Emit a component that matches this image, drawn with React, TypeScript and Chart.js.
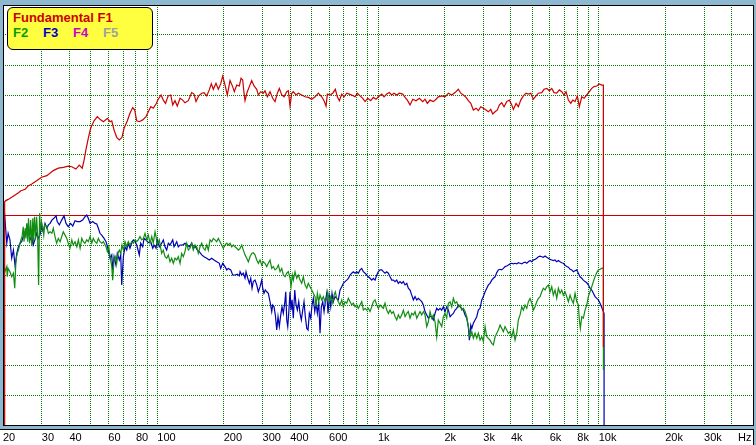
import React, { useEffect, useRef } from "react";
import { Chart, registerables } from "chart.js";

Chart.register(...registerables);

// ---------- axis ----------
const TICK_VALUES = [20, 30, 40, 50, 60, 70, 80, 90, 100, 200, 300, 400, 500, 600, 700, 800, 900, 1000, 2000, 3000, 4000, 5000, 6000, 7000, 8000, 9000, 10000, 20000, 30000, 40000];
const TICK_LABELS = ["20", "30", "40", "", "60", "", "80", "", "100", "200", "300", "400", "", "600", "", "", "", "1k", "2k", "3k", "4k", "", "6k", "", "8k", "", "10k", "20k", "30k", ""];
const UNIT_LABEL = "Hz";
const X_MIN = 20;
const X_MAX = 50000;
const Y_MIN = 0;
const Y_MAX = 140;
const Y_STEP = 10;
const REF_LEVEL = 70;

// ---------- F1 (fundamental) ----------
const F1_HZ = [20.35, 20.35, 20.6, 21.1, 21.9, 22.7, 23.5, 24.1, 25.2, 26.0,
  27.0, 28.4, 29.9, 31.6, 33.8, 35.6, 37.5, 39.5, 41.0, 42.8,
  44.3, 45.7, 46.6, 47.5, 48.7, 49.9, 51.7, 53.5, 55.0, 57.0,
  59.4, 61.1, 62.2, 63.7, 65.5, 67.3, 69.2, 70.7, 73.2, 75.2,
  77.4, 79.0, 80.7, 82.9, 85.9, 88.9, 91.1, 93.4, 95.9, 98.7,
  101, 104, 106.5, 109, 112, 115, 117.5, 120.3, 123.2, 126.8,
  130.4, 133.5, 138.2, 143.2, 146.7, 149.8, 154, 159, 162.8, 167.5,
  172, 175.7, 179.4, 184.5, 189, 193.8, 197.9, 202.8, 207.6, 213.6,
  219.6, 223.4, 229.1, 235.4, 239.6, 243.8, 247.2, 249.8, 255.8, 261.2,
  267.8, 274.4, 282.2, 287, 294.2, 302.2, 307.6, 315.2, 324.2, 333.4,
  341.6, 350, 357.2, 366.4, 375.2, 386, 392.4, 399.4, 406.6, 413.4,
  425.2, 435.6, 451.2, 467.2, 483.4, 500.8, 518.6, 536.6, 556, 569.6,
  581.6, 589.6, 606.2, 623.6, 640.8, 654.2, 668.2, 685, 701.8, 721.8,
  741.6, 760.4, 787, 806, 829.2, 852.8, 873.6, 898.6, 927, 952.6,
  979.8, 1004, 1040, 1065, 1095, 1125, 1154, 1182, 1216, 1249,
  1294, 1326, 1358, 1397, 1437, 1487, 1539, 1595, 1633, 1673,
  1721, 1781, 1832, 1876, 1944, 2012, 2084, 2158, 2234, 2312,
  2372, 2436, 2506, 2566, 2632, 2704, 2782, 2848, 2922, 3002,
  3086, 3162, 3242, 3310, 3392, 3474, 3548, 3636, 3724, 3830,
  3936, 4036, 4104, 4222, 4324, 4434, 4556, 4686, 4800, 4920,
  5056, 5200, 5328, 5520, 5654, 5814, 5974, 6126, 6276, 6454,
  6632, 6800, 6966, 7112, 7286, 7470, 7628, 7812, 8002, 8170,
  8378, 8580, 8826, 9068, 9298, 9524, 9796, 10066, 10322, 10496,
  10500];
const F1_DB = [-10, 74.4, 74.8, 75.2, 75.9, 76.7, 77.4, 78.1, 78.6, 79.7,
  80.3, 81.4, 82.6, 83.1, 84.8, 85.6, 85.9, 86.3, 86.1, 85.3,
  86.6, 85.6, 88.3, 91.7, 95.6, 98.9, 101.4, 102.8, 101.9, 101.1,
  102.2, 101.1, 101.4, 98.3, 95.9, 95.0, 95.9, 98.9, 101.4, 103.9,
  105.8, 105.0, 101.4, 101.1, 101.7, 102.8, 104.4, 106.1, 105.6, 107.0,
  108.6, 110.0, 108.3, 107.2, 109.7, 110.0, 106.7, 108.1, 106.3, 108.9,
  108.3, 107.4, 108.1, 110.8, 110.3, 107.8, 109.7, 110.6, 110.8, 109.7,
  111.7, 113.7, 111.9, 113.9, 111.9, 113.7, 116.3, 113.3, 110.0, 114.8,
  112.8, 111.1, 113.3, 113.0, 115.6, 115.0, 110.6, 108.1, 111.1, 112.8,
  114.8, 113.0, 111.9, 110.0, 111.1, 110.6, 111.4, 109.4, 111.1, 108.9,
  107.8, 110.6, 112.2, 110.0, 109.4, 111.1, 111.4, 106.3, 110.6, 111.1,
  110.0, 110.6, 110.0, 109.4, 109.2, 108.6, 109.4, 110.6, 109.4, 108.1,
  106.3, 110.3, 110.0, 110.6, 111.9, 109.4, 108.1, 110.3, 109.4, 110.6,
  110.3, 110.0, 109.4, 110.6, 109.7, 108.9, 107.8, 108.9, 108.1, 109.2,
  108.6, 109.4, 110.3, 109.4, 110.3, 110.8, 110.0, 110.6, 110.0, 110.6,
  110.3, 109.2, 108.3, 106.7, 108.6, 108.1, 108.9, 107.8, 108.6, 107.2,
  108.3, 107.8, 108.6, 109.4, 109.7, 109.4, 110.6, 110.0, 110.8, 111.9,
  110.6, 110.0, 109.2, 108.1, 107.2, 105.0, 105.6, 104.8, 106.1, 105.6,
  105.0, 104.4, 105.2, 103.7, 104.4, 105.0, 106.7, 107.4, 106.1, 107.8,
  108.3, 106.7, 105.2, 107.2, 106.1, 108.3, 109.7, 110.6, 110.3, 110.6,
  108.6, 109.7, 110.6, 110.8, 111.9, 112.2, 111.4, 112.2, 110.8, 110.6,
  111.7, 111.1, 110.0, 111.1, 108.3, 107.2, 108.3, 107.8, 109.7, 106.1,
  109.4, 108.9, 110.0, 111.1, 112.2, 112.8, 113.0, 113.7, 113.3, 113.3,
  26.0];

// ---------- F2 ----------
const F2_HZ = [20.0, 20.2, 20.4, 20.8, 20.9, 21.1, 21.5, 21.9, 22.3, 22.6,
  22.9, 23.2, 23.5,
  24.1, 24.4, 24.7, 24.9, 25.2, 25.4, 25.6, 25.9, 26.1, 26.4,
  26.7, 27.0, 27.3, 27.5, 27.8, 28.1, 28.4, 28.7, 29.0, 29.3,
  29.6, 29.9, 30.3, 30.6, 30.9,
  31.6, 32.1, 32.7, 33.3,
  33.8, 34.4, 35.0, 35.6, 36.3, 36.9, 37.5, 38.2, 38.9, 39.5,
  40.2, 41.0, 41.6, 42.4, 43.2, 43.9, 44.7, 45.5, 46.2, 47.0,
  47.9, 48.7, 49.6, 50.5, 51.3, 52.2, 53.2, 54.1, 55.0, 56.0,
  57.0, 58.6, 59.4, 60.3, 61.1, 62.2, 62.8, 63.7, 64.5, 65.5,
  66.4, 67.3, 68.3, 69.2, 70.2, 71.4, 72.7, 73.9, 75.2, 76.6,
  77.9, 79.3, 80.7, 82.0, 83.5, 85.0, 86.5, 88.0, 89.6, 91.1,
  92.7, 94.4, 95.9, 97.7, 98.7, 100.0, 102.1, 103.7, 104.7, 106.5,
  108.4, 110.3, 112.2, 114.2, 116.2, 118.2, 120.3, 122.5, 124.5, 126.8,
  129.0, 131.2, 133.5, 135.9, 138.2, 140.7, 143.2, 145.6, 148.2, 150.9,
  153.4, 156.2, 159.0, 161.7, 164.6, 167.5, 170.3, 173.4, 176.5, 179.4,
  182.6, 185.9, 189.0, 192.4, 195.8, 199.2, 202.7, 206.4, 209.8, 213.6,
  217.4, 221.0, 225.0, 229.1, 233.0, 237.2, 241.4, 245.4, 249.8, 254.3,
  258.6, 263.2, 267.8, 272.3, 277.2, 282.2, 287.0, 292.2, 297.4, 302.2,
  307.6, 313.1, 318.5, 324.2, 330.0, 335.6, 341.6, 347.8, 353.6, 359.9,
  366.4, 372.4, 379.1, 386.0, 392.4, 399.4, 403.6, 409.1, 413.4, 420.8,
  428.4, 435.6, 443.4, 451.2, 458.9, 467.2, 475.6, 483.4, 492.0, 500.8,
  509.3, 518.6, 524.0, 531.2, 538.9, 546.2, 556.0, 565.4, 575.4, 585.8,
  591.8, 602.0, 610.7, 623.6, 632.2, 640.8, 650.2, 661.1, 673.0, 685.0,
  696.6, 709.0, 721.8, 734.0, 747.2, 760.4, 773.2, 787.0, 801.2, 814.6,
  829.2, 844.0, 858.2, 873.6, 889.2, 904.2, 920.4, 936.8, 952.6, 969.6,
  987.0, 1004, 1022, 1040, 1057, 1076, 1095, 1114, 1134, 1154,
  1174, 1195, 1216, 1236, 1258, 1281, 1303, 1326, 1350, 1372,
  1397, 1422, 1446, 1472, 1498, 1523, 1550, 1578, 1605, 1633,
  1663, 1691, 1721, 1752, 1781, 1813, 1845, 1876, 1910, 1944,
  1977, 2012, 2048, 2084, 2121, 2158, 2195, 2234, 2274, 2312,
  2354, 2396, 2436, 2480, 2524, 2566, 2612, 2660, 2704, 2752,
  2802, 2848, 2900, 2952, 3002, 3056, 3110, 3162, 3218, 3276,
  3332, 3392, 3452, 3510, 3572, 3636, 3698, 3764, 3830, 3896,
  3966, 4036, 4104, 4178, 4252, 4324, 4402, 4480, 4556, 4638,
  4720, 4800, 4886, 4974, 5056, 5146, 5238, 5328, 5424, 5520,
  5614, 5714, 5814, 5912, 6018, 6126, 6228, 6340, 6454, 6562,
  6680, 6800, 6914, 7038, 7164, 7286, 7416, 7548, 7674, 7812,
  7952, 8086, 8170, 8256, 8378, 8520, 8672, 8826, 8974, 9134,
  9298, 9456, 9624, 9796, 9962, 10140, 10322, 10496,
  10502];
const F2_DB = [52.8, 53.9, 51.1, 52.8, 49.4, 52.2, 51.1, 49.4, 50.6, 45.6,
  55.0, 57.2, 58.3,
  61.7, 62.8, 66.1, 61.1, 65.6, 62.2, 67.2, 61.1, 68.9, 60.6,
  68.3, 60.0, 68.9, 61.1, 69.4, 62.2, 69.4, 63.3, 46.7, 70.6,
  64.4, 67.8, 65.6, 63.3, 66.7,
  66.1, 63.9, 64.4, 63.9,
  65.6, 62.8, 60.6, 62.2, 61.1, 62.8, 64.4, 63.3, 62.2, 60.6,
  58.9, 61.7, 60.0, 61.1, 59.4, 61.7, 58.9, 62.2, 61.1, 60.6,
  61.7, 61.1, 62.8, 60.6, 62.2, 61.1, 60.6, 62.2, 61.1, 60.6,
  61.1, 59.4, 57.8, 59.4, 56.1, 52.8, 48.3, 55.0, 56.1, 53.9,
  57.2, 58.3, 57.2, 60.0, 58.3, 61.1, 59.4, 61.1, 60.0, 61.1,
  60.6, 61.7, 61.1, 61.7, 62.8, 61.7, 62.2, 63.9, 61.7, 63.3,
  60.6, 62.8, 60.6, 64.4, 62.8, 60.0, 61.7, 58.9, 57.2, 58.3,
  56.1, 55.6, 56.7, 54.4, 55.6, 53.9, 55.6, 55.0, 56.1, 53.9,
  57.2, 56.1, 57.8, 60.6, 58.3, 58.9, 60.6, 58.3, 60.0, 59.4,
  57.2, 59.4, 60.6, 58.9, 58.3, 60.0, 58.3, 61.7, 61.1, 62.2,
  61.7, 61.1, 62.2, 61.1, 60.0, 58.9, 60.0, 60.6, 60.0, 60.6,
  59.4, 60.0, 59.4, 58.9, 58.3, 58.9, 60.0, 58.3, 56.7, 55.6,
  54.4, 56.1, 57.2, 57.4, 56.7, 55.0, 53.9, 55.0, 53.3, 54.4,
  53.9, 52.8, 53.9, 55.0, 52.2, 52.8, 51.7, 52.2, 53.3, 51.1,
  52.2, 50.0, 49.4, 50.6, 51.1, 48.9, 46.1, 50.0, 48.3, 51.1,
  48.9, 50.0, 48.3, 47.2, 49.4, 46.7, 45.6, 47.2, 46.1, 45.0,
  43.9, 42.8, 39.4, 43.9, 41.1, 43.3, 41.7, 42.8, 41.1, 42.2,
  44.4, 41.1, 42.8, 40.6, 43.3, 44.4, 42.2, 41.1, 40.0, 41.7,
  39.4, 41.1, 40.6, 42.2, 41.1, 40.0, 40.6, 39.4, 40.0, 38.9,
  40.0, 41.1, 38.3, 38.9, 38.3, 38.9, 37.8, 39.4, 41.1, 41.7,
  40.0, 38.9, 40.0, 39.4, 38.9, 40.6, 38.3, 37.2, 38.3, 37.2,
  37.8, 36.1, 35.0, 36.7, 35.6, 36.7, 38.3, 36.1, 37.2, 37.8,
  35.6, 37.2, 36.7, 37.8, 35.6, 36.7, 37.8, 36.7, 37.8, 36.7,
  32.8, 34.4, 37.8, 35.6, 36.7, 34.4, 29.4, 35.0, 33.9, 32.8,
  36.1, 37.2, 35.6, 40.6, 41.1, 39.4, 42.2, 40.6, 41.1, 39.4,
  40.0, 38.3, 38.9, 37.8, 36.1, 32.8, 29.4, 31.1, 28.9, 30.6,
  28.9, 30.6, 28.3, 29.4, 27.8, 32.8, 29.4, 28.9, 28.3, 27.2,
  26.7, 29.4, 30.6, 31.7, 33.3, 32.2, 31.1, 32.8, 31.7, 30.6,
  31.1, 29.4, 31.7, 28.3, 30.6, 35.0, 36.7, 39.4, 38.3, 40.0,
  38.9, 41.1, 42.2, 40.6, 38.3, 39.4, 41.1, 42.2, 42.8, 44.4,
  45.6, 45.0, 46.1, 46.7, 44.4, 46.1, 43.3, 45.0, 42.2, 45.6,
  43.9, 45.0, 43.3, 44.4, 42.8, 41.1, 43.3, 41.7, 40.6, 43.9,
  41.1, 40.0, 35.0, 32.2, 36.1, 35.6, 38.3, 40.0, 42.8, 44.4,
  46.1, 47.8, 49.4, 50.8, 51.7, 51.9, 52.2, 52.4,
  18.3];

// ---------- F3 ----------
const F3_HZ = [20.0, 20.4, 20.8, 21.1, 21.5, 21.9, 22.3, 22.7, 23.1, 23.5,
  23.9, 24.3, 24.7, 25.2, 25.6, 26.0, 26.5, 27.0, 27.4, 27.9,
  28.4, 28.9, 29.4, 29.9, 30.4, 31.0, 31.6, 32.1, 32.7, 33.3,
  34.0, 34.8, 35.2, 36.0, 36.9, 37.8, 38.6, 39.5, 40.5, 41.4,
  42.4, 43.4, 44.7, 45.9, 47.0, 47.9, 48.7, 49.6, 51.0, 52.2,
  53.2, 54.1, 55.0, 56.0, 57.4, 58.6, 60.0, 61.1, 62.2, 62.8,
  63.7, 65.0, 65.9, 67.3, 68.3, 69.0, 70.2, 71.4, 72.7, 73.9,
  75.2, 76.6, 77.9, 79.3, 80.7, 82.9, 84.1, 85.9, 87.1, 88.9,
  91.1, 93.4, 95.4, 96.7, 98.7, 100.0, 102.1, 104.7, 106.5, 108.4,
  110.3, 112.2, 114.2, 117.5, 119.1, 122.5, 124.5, 126.8, 130.4, 133.5,
  136.8, 139.7, 143.2, 145.6, 148.2, 151.9, 155.0, 159.0, 162.8, 167.5,
  172.0, 176.5, 180.7, 185.9, 191.0, 193.8, 197.9, 202.7, 206.4, 209.8,
  215.2, 219.6, 225.0, 230.6, 235.4,
  237.2, 241.4, 245.4, 249.8, 252.4,
  255.8, 258.6, 261.2, 265.1, 268.8, 272.3, 277.2, 282.2, 287.0, 292.2,
  297.4, 300.4, 304.4, 308.6, 313.1, 318.5, 324.2, 330.0, 333.4, 338.0,
  342.6, 347.8, 352.4, 357.2, 362.6, 367.4, 372.4, 378.0, 382.0, 386.0,
  390.0, 394.0, 399.4, 403.6, 408.0, 413.4, 419.6, 425.2, 431.2, 437.4,
  443.4, 449.4, 456.0, 462.2, 468.6, 475.6, 482.0, 488.6, 495.8, 502.6,
  509.3, 517.0, 524.0, 531.2, 538.9, 546.2, 553.6, 561.8, 569.6, 577.4,
  585.8, 593.8, 602.0, 610.7, 619.0, 627.4, 638.8, 650.2, 661.1, 673.0,
  685.0, 696.6, 709.0, 721.8, 734.0, 747.2, 760.4, 773.2, 787.0, 801.2,
  814.6, 829.2, 844.0, 858.2, 873.6, 889.2, 904.2, 920.4, 936.8, 952.6,
  969.6, 987.0, 1004, 1022, 1040, 1057, 1076, 1095, 1114, 1134,
  1154, 1174, 1195, 1216, 1236, 1258, 1281, 1303, 1326, 1350,
  1372, 1397, 1422, 1446, 1472, 1498, 1523, 1550, 1578, 1605,
  1633, 1663, 1691, 1721, 1752, 1781, 1813, 1845, 1876, 1910,
  1944, 1977, 2012, 2048, 2084, 2121, 2158, 2195, 2234, 2274,
  2312, 2354, 2396, 2436, 2480, 2524, 2566, 2594, 2632, 2660,
  2704, 2752, 2802, 2848, 2900, 2952, 3002, 3056, 3110, 3162,
  3218, 3276, 3332, 3392, 3452, 3510, 3572, 3636, 3698, 3764,
  3830, 3896, 3966, 4036, 4104, 4178, 4252, 4324, 4402, 4480,
  4556, 4638, 4720, 4800, 4886, 4974, 5056, 5146, 5238, 5328,
  5424, 5520, 5614, 5714, 5814, 5912, 6018, 6126, 6228, 6340,
  6454, 6562, 6680, 6800, 6914, 7038, 7164, 7286, 7416, 7548,
  7674, 7812, 7952, 8086, 8230, 8378, 8520, 8672, 8826, 8974,
  9134, 9298, 9456, 9624, 9796, 9962, 10140, 10322, 10496, 10572,
  10575];
const F3_DB = [63.9, 68.9, 60.6, 63.9, 61.7, 55.6, 58.3, 52.8, 57.2, 59.4,
  60.6, 61.1, 62.8, 64.4, 63.9, 66.7, 61.7, 62.8, 60.0, 61.7,
  63.9, 62.2, 63.3, 66.1, 64.4, 67.2, 65.6, 66.7, 67.2, 68.3,
  68.9, 69.7, 67.8, 66.7, 68.3, 69.7, 67.2, 66.1, 67.2, 66.3,
  68.1, 67.8, 67.8, 68.3, 69.4, 70.0, 68.9, 67.2, 67.8, 67.2,
  67.0, 65.6, 63.9, 63.3, 62.2, 61.1, 58.3, 55.6, 56.7, 51.7,
  56.1, 53.3, 57.2, 55.0, 56.7, 46.7, 56.1, 59.4, 58.3, 60.6,
  58.9, 60.8, 61.7, 61.1, 60.0, 56.7, 60.6, 59.4, 62.2, 61.7,
  60.8, 61.1, 58.9, 60.0, 58.9, 61.7, 59.4, 60.6, 61.7, 59.4,
  58.3, 60.6, 60.0, 61.7, 59.4, 61.1, 59.4, 60.0, 60.0, 60.6,
  60.0, 59.4, 60.6, 58.9, 59.7, 58.3, 57.8, 56.7, 56.1, 55.6,
  55.0, 55.6, 55.0, 54.4, 53.9, 52.2, 53.9, 52.8, 51.7, 52.2,
  51.7, 50.0, 50.0, 50.3, 49.7,
  51.1, 50.0, 50.6, 48.9, 51.1,
  49.4, 48.3, 47.2, 48.9, 45.6, 47.8, 48.3, 46.7, 44.4, 46.1,
  48.3, 45.6, 43.9, 45.0, 44.4, 43.9, 41.1, 37.8, 40.0, 39.4,
  36.7, 31.7, 36.1, 32.8, 36.7, 39.4, 37.2, 40.6, 44.4, 35.0,
  32.8, 37.2, 44.4, 38.3, 41.7, 35.6, 45.0, 40.0, 38.3, 41.1,
  37.2, 35.0, 38.3, 41.1, 36.1, 32.2, 31.7, 37.2, 35.6, 40.0,
  42.2, 37.8, 40.6, 37.2, 41.1, 30.6, 39.4, 41.1, 37.8, 41.1,
  43.9, 37.2, 42.8, 39.4, 43.9, 41.1, 42.8, 42.2, 41.7, 45.0,
  46.1, 47.2, 47.8, 48.3, 48.9, 50.0, 50.6, 51.1, 50.6, 51.1,
  50.6, 51.7, 52.2, 51.1, 50.6, 50.0, 49.4, 48.9, 48.3, 48.9,
  48.3, 50.0, 51.1, 51.7, 51.7, 51.1, 50.6, 51.1, 50.6, 49.4,
  48.3, 48.3, 47.8, 48.3, 47.2, 47.8, 47.2, 47.8, 46.7, 47.2,
  45.6, 45.0, 43.3, 41.7, 42.8, 41.7, 42.2, 41.7, 41.1, 40.0,
  37.8, 36.7, 35.6, 36.3, 35.9, 35.0, 37.2, 38.9, 38.3, 38.9,
  38.3, 39.4, 37.8, 39.4, 38.3, 36.1, 36.7, 37.2, 38.3, 38.9,
  40.0, 39.4, 38.9, 38.3, 36.7, 35.6, 32.8, 28.3, 33.3, 32.2,
  33.9, 35.0, 36.1, 38.3, 38.9, 41.7, 42.8, 44.4, 45.6, 46.7,
  47.2, 48.3, 48.9, 49.4, 50.8, 51.7, 51.9, 51.7, 52.2, 52.8,
  53.0, 53.3, 53.7, 53.9, 53.7, 53.9, 53.7, 54.1, 53.9, 53.7,
  54.1, 54.3, 53.9, 54.4, 54.8, 54.4, 55.0, 55.2, 55.6, 56.1,
  56.3, 56.1, 55.9, 56.3, 55.9, 55.6, 55.2, 55.0, 54.8, 55.0,
  54.4, 54.8, 54.4, 54.1, 53.9, 53.3, 52.8, 52.6, 51.9, 51.7,
  51.1, 51.4, 51.7, 50.6, 49.4, 48.9, 48.3, 47.8, 47.4, 46.7,
  45.6, 45.0, 43.9, 42.8, 42.2, 41.7, 40.6, 39.2, 37.8, 37.2,
  -10];

// ---------- style ----------
const BG = "#8CB8D0";
const GRID = "#008000";
const RED = "#CC0000";
const GREEN = "#108C10";
const BLUE = "#0000B4";
const FONT = "'Liberation Sans', Arial, sans-serif";

const toPoints = (xs: number[], ys: number[]) => xs.map((x, i) => ({ x, y: ys[i] }));

const framePlugin = {
  id: "frame",
  beforeDraw(chart: any) {
    const { ctx, width, height, chartArea: a } = chart;
    ctx.save();
    ctx.fillStyle = BG;
    ctx.fillRect(0, 0, width, height);
    ctx.fillStyle = "#FFFFFF";
    ctx.fillRect(a.left, a.top, a.right - a.left, a.bottom - a.top);
    // label panel
    ctx.fillRect(0, 429, 754, height - 429);
    ctx.strokeStyle = "#000";
    ctx.lineWidth = 1;
    ctx.beginPath();
    ctx.moveTo(0, 429.5);
    ctx.lineTo(754, 429.5);
    ctx.moveTo(753.5, 429);
    ctx.lineTo(753.5, height);
    ctx.stroke();
    ctx.restore();
  },
  beforeDatasetsDraw(chart: any) {
    const { ctx, chartArea: a, scales } = chart;
    const y = Math.floor(scales.y.getPixelForValue(REF_LEVEL)) + 0.5;
    ctx.save();
    ctx.strokeStyle = RED;
    ctx.lineWidth = 1;
    ctx.beginPath();
    ctx.moveTo(a.left, y);
    ctx.lineTo(a.right, y);
    ctx.stroke();
    ctx.restore();
  },
  afterDraw(chart: any) {
    const { ctx, chartArea: a } = chart;
    ctx.save();
    ctx.strokeStyle = "#000";
    ctx.lineWidth = 1;
    ctx.strokeRect(a.left + 0.5, a.top + 0.5, a.right - a.left, a.bottom - a.top);
    ctx.fillStyle = "#000";
    ctx.font = `11px ${FONT}`;
    ctx.textBaseline = "middle";
    ctx.textAlign = "left";
    ctx.fillText(UNIT_LABEL, 738, 438.4);
    ctx.restore();
  },
};

export default function App() {
  const ref = useRef<HTMLCanvasElement | null>(null);

  useEffect(() => {
    if (!ref.current) return;
    const lineBase = { borderWidth: 1.2, pointRadius: 0, pointHoverRadius: 0, tension: 0, fill: false };
    const chart = new Chart(ref.current, {
      type: "line",
      data: {
        datasets: [
          { ...lineBase, label: "Fundamental F1", data: toPoints(F1_HZ, F1_DB), borderColor: RED },
          { ...lineBase, label: "F2", data: toPoints(F2_HZ, F2_DB), borderColor: GREEN },
          { ...lineBase, label: "F3", data: toPoints(F3_HZ, F3_DB), borderColor: BLUE },
        ],
      } as any,
      options: {
        responsive: false,
        devicePixelRatio: 1,
        animation: false,
        events: [],
        layout: { padding: { left: 3, right: 3, top: 5, bottom: 0 } },
        plugins: { legend: { display: false }, tooltip: { enabled: false }, title: { display: false } },
        scales: {
          x: {
            type: "logarithmic",
            min: X_MIN,
            max: X_MAX,
            afterBuildTicks: (s: any) => {
              s.ticks = TICK_VALUES.map((v) => ({ value: v }));
            },
            afterFit: (s: any) => {
              s.paddingLeft = 0;
              s.paddingRight = 0;
              s.height = 20;
            },
            ticks: {
              autoSkip: false,
              maxRotation: 0,
              minRotation: 0,
              align: "start",
              padding: 6.8,
              color: "#000",
              font: { family: FONT, size: 11, lineHeight: 1.2 },
              callback: (_v: any, i: number) => TICK_LABELS[i],
            },
            grid: { color: GRID, lineWidth: 1, drawTicks: false, tickLength: 0 },
            border: { display: false, dash: [1, 1] },
          },
          y: {
            type: "linear",
            min: Y_MIN,
            max: Y_MAX,
            ticks: { display: false, stepSize: Y_STEP },
            grid: { color: GRID, lineWidth: 1, drawTicks: false, tickLength: 0 },
            border: { display: false, dash: [1, 1] },
          },
        },
      } as any,
      plugins: [framePlugin],
    });
    return () => chart.destroy();
  }, []);

  const legendRow2 = [
    { t: "F2", c: "#00A000" },
    { t: "F3", c: "#0000CC" },
    { t: "F4", c: "#CC00CC" },
    { t: "F5", c: "#A0A0A0" },
  ];

  return (
    <div style={{ position: "fixed", left: 0, top: 0, width: 756, height: 445, overflow: "hidden" }}>
      <canvas ref={ref} width={756} height={445} style={{ display: "block" }} />
      <div
        style={{
          position: "absolute",
          left: 7,
          top: 7,
          width: 146,
          height: 43,
          boxSizing: "border-box",
          background: "#FFFF40",
          border: "1px solid #000",
          borderRadius: 6,
          padding: "2px 0 0 5px",
          fontFamily: FONT,
          fontWeight: "bold",
          fontSize: 13,
          lineHeight: "15px",
          whiteSpace: "nowrap",
        }}
      >
        <div style={{ color: RED }}>Fundamental F1</div>
        <div>
          {legendRow2.map((l) => (
            <span key={l.t} style={{ display: "inline-block", width: 30, color: l.c }}>
              {l.t}
            </span>
          ))}
        </div>
      </div>
    </div>
  );
}
